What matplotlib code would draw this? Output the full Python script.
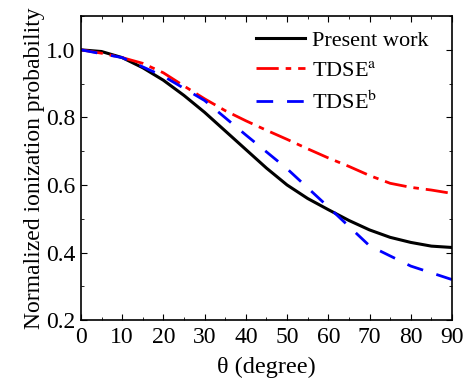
import matplotlib
matplotlib.use("Agg")
import matplotlib.pyplot as plt
from matplotlib.ticker import MultipleLocator

plt.rcParams['font.family'] = ['Liberation Serif', 'DejaVu Serif']
plt.rcParams['mathtext.fontset'] = 'stix'

theta = [0, 5, 10, 15, 20, 25, 30, 35, 40, 45, 50, 55, 60, 65, 70, 75, 80, 85, 90]
present = [1.0, 0.995, 0.977, 0.947, 0.91, 0.865, 0.815, 0.76, 0.705, 0.65, 0.6, 0.56, 0.527, 0.495, 0.467, 0.445, 0.43, 0.419, 0.415]

theta_a = [0, 5, 10, 15, 20, 25, 30, 35, 40, 45, 50, 55, 60, 65, 70, 75, 80, 85, 90]
tdse_a = [1.0, 0.99, 0.977, 0.96, 0.932, 0.893, 0.855, 0.82, 0.79, 0.762, 0.735, 0.707, 0.68, 0.655, 0.628, 0.605, 0.593, 0.585, 0.575]

theta_b = [0, 10, 20, 30, 40, 50, 60, 70, 80, 90]
tdse_b = [1.0, 0.977, 0.922, 0.85, 0.748, 0.648, 0.535, 0.42, 0.36, 0.32]

fig = plt.figure(figsize=(4.65, 3.82), dpi=100)
ax = fig.add_axes([0.174, 0.162, 0.798, 0.796])

ax.plot(theta, present, color='black', lw=2.2, label='Present work')
ax.plot(theta_a, tdse_a, color='red', lw=2.0, dashes=[8, 2.5, 2, 2.5], label='TDSE$^{\\mathrm{a}}$')
ax.plot(theta_b, tdse_b, color='blue', lw=2.0, dashes=[6, 5], label='TDSE$^{\\mathrm{b}}$')

ax.set_xlim(0, 90)
ax.set_ylim(0.2, 1.1)
ax.xaxis.set_major_locator(MultipleLocator(10))
ax.xaxis.set_minor_locator(MultipleLocator(5))
ax.yaxis.set_major_locator(MultipleLocator(0.2))
ax.yaxis.set_minor_locator(MultipleLocator(0.1))
ax.tick_params(which='both', direction='in', top=True, right=True, labelsize=17)
ax.tick_params(which='major', length=4)
ax.tick_params(which='minor', length=2.5)
ax.tick_params(axis='x', which='major', pad=5)
ax.tick_params(axis='y', which='major', pad=4)
for s in ax.spines.values():
    s.set_linewidth(1.2)

ax.set_xlabel('θ (degree)', fontsize=17.5, labelpad=6)
ax.set_ylabel('Normalized ionization probability', fontsize=17, labelpad=1)

ax.legend(loc='upper right', frameon=False, fontsize=16, handlelength=2.2,
          handletextpad=0.3, labelspacing=0.45, bbox_to_anchor=(0.99, 1.02))

fig.savefig('out.png', dpi=100)
